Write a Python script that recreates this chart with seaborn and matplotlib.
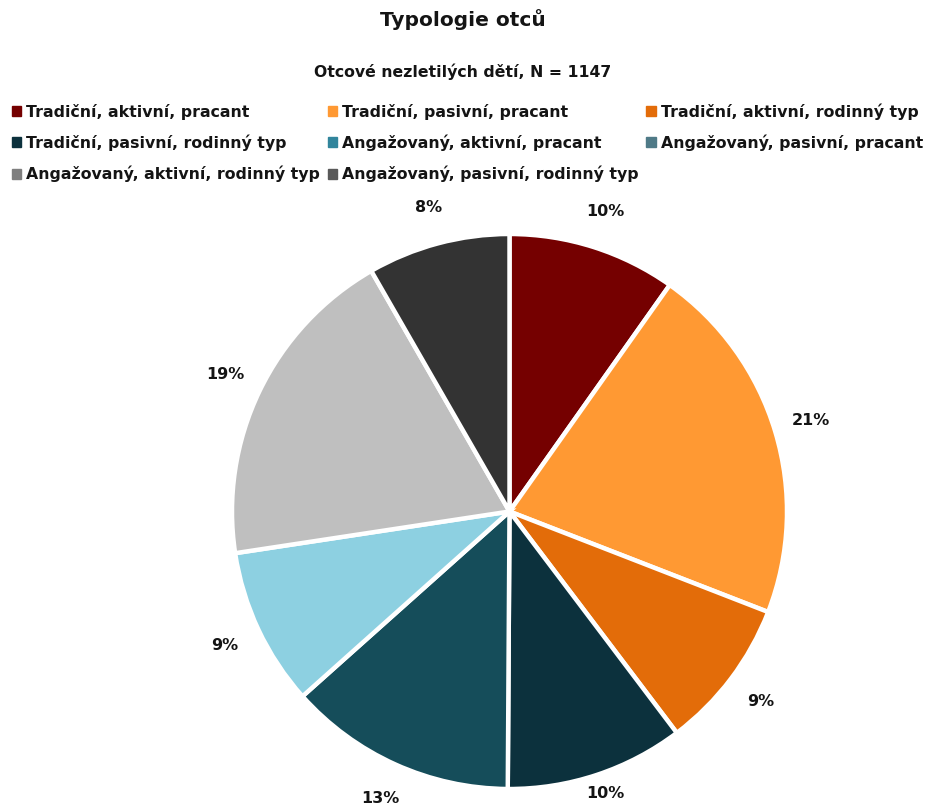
import matplotlib
matplotlib.use("Agg")
import matplotlib.pyplot as plt
import matplotlib.patches as mpatches
import seaborn as sns

# data (clockwise from 12 o'clock)
categories = [
    "Tradiční, aktivní, pracant",
    "Tradiční, pasivní, pracant",
    "Tradiční, aktivní, rodinný typ",
    "Tradiční, pasivní, rodinný typ",
    "Angažovaný, aktivní, pracant",
    "Angažovaný, pasivní, pracant",
    "Angažovaný, aktivní, rodinný typ",
    "Angažovaný, pasivní, rodinný typ",
]
shares = [9.8, 21.1, 8.8, 10.4, 13.3, 9.2, 19.1, 8.3]

slice_colors = ["#750000", "#FF9933", "#E36C09", "#0C313D",
                "#154D5A", "#8DD0E1", "#BFBFBF", "#333333"]
legend_colors = ["#750000", "#FF9933", "#E36C09", "#0C313D",
                 "#31859C", "#4F7A87", "#7F7F7F", "#595959"]

title = "Typologie otců"
subtitle = "Otcové nezletilých dětí, N = 1147"

sns.set_theme(style="white")
plt.rcParams['font.family'] = ['DejaVu Sans']
text_color = "#141414"

fig = plt.figure(figsize=(9.25, 8.08), dpi=100)

# pie axes: centre ~ (510, 512) px, radius ~ 277 px
r_px = 277.5
cx, cy = 509.5, 511.5
ax = fig.add_axes([(cx - r_px) / 925, (808 - cy - r_px) / 808,
                   2 * r_px / 925, 2 * r_px / 808])
palette = sns.color_palette(slice_colors)
wedges, texts = ax.pie(
    shares,
    colors=palette,
    startangle=90,
    counterclock=False,
    labels=[f"{round(v):.0f}%" for v in shares],
    labeldistance=1.135,
    wedgeprops=dict(edgecolor="white", linewidth=3.2),
    textprops=dict(fontsize=11.5, fontweight="bold", color=text_color),
)
for t in texts:
    t.set_horizontalalignment("center")
    t.set_verticalalignment("center")
    x, y = t.get_position()
    if y < -1.05:
        # keep the lowest label inside the figure
        t.set_position((x * 1.1 / 1.135, y * 1.1 / 1.135))
        t.set_verticalalignment("bottom")
ax.set_xlim(-1, 1)
ax.set_ylim(-1, 1)
ax.set_aspect("equal")
ax.axis("off")

fig.text(0.5, 1 - 20 / 808, title, ha="center", va="center",
         fontsize=14.5, fontweight="bold", color=text_color)
fig.text(0.5, 1 - 72 / 808, subtitle, ha="center", va="center",
         fontsize=11.3, fontweight="bold", color=text_color)

# legend: row-major order in 3 columns
handles = [mpatches.Patch(color=c, label=l) for c, l in zip(legend_colors, categories)]
order = [0, 3, 6, 1, 4, 7, 2, 5]
leg = fig.legend(
    [handles[i] for i in order], [categories[i] for i in order],
    ncol=3, loc="upper left", bbox_to_anchor=(12 / 925, 1 - 103 / 808),
    frameon=False, handlelength=0.6, handleheight=0.6,
    handletextpad=0.3, columnspacing=0.5, labelspacing=0.95,
    borderaxespad=0, borderpad=0,
    prop=dict(weight="bold", size=11.3),
)
for t in leg.get_texts():
    t.set_color(text_color)

fig.savefig("out.png", dpi=100, facecolor="white")
